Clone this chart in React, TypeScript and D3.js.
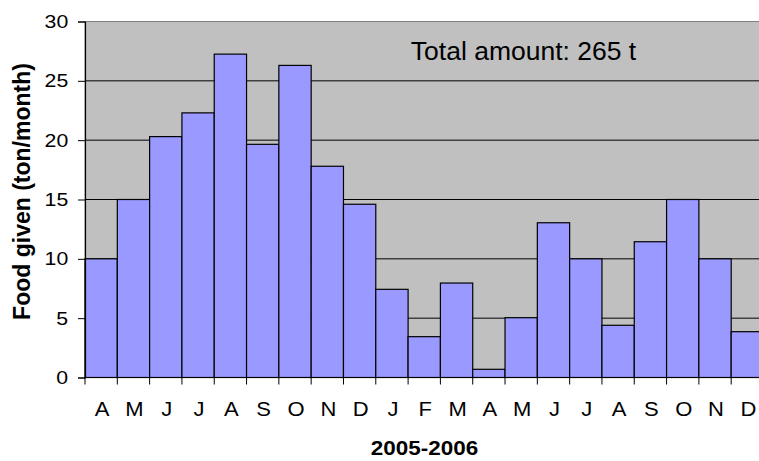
import { useEffect, useRef } from "react";
import * as d3 from "d3";

// Month initials, Apr 2005 -> Dec 2006
const MONTHS = ["A", "M", "J", "J", "A", "S", "O", "N", "D", "J", "F", "M", "A", "M", "J", "J", "A", "S", "O", "N", "D"];
// Food given (ton/month)
const FOOD = [10, 15, 20.3, 22.3, 27.25, 19.65, 26.3, 17.8, 14.6, 7.43, 3.44, 7.96, 0.69, 5.04, 13.04, 10, 4.4, 11.44, 15, 10, 3.86];
const Y_TICKS = [0, 5, 10, 15, 20, 25, 30];

const FONT = "Liberation Sans, Arial, sans-serif";
// the original text is a bit wider than it is tall
const SX = 1.1;

export default function App() {
  const svgRef = useRef<SVGSVGElement>(null);

  useEffect(() => {
    const svg = d3.select(svgRef.current);
    svg.selectAll("*").remove();

    const left = 85;
    const right = 763.5;
    const top = 21.5;
    const bottom = 377.5;

    const idx = MONTHS.map((_, i) => String(i));
    const x = d3.scaleBand().domain(idx).range([left, right]).paddingInner(0).paddingOuter(0);
    const y = d3.scaleLinear().domain([0, 30]).range([bottom, top]);

    // Plot area
    svg.append("rect")
      .attr("x", left).attr("y", top)
      .attr("width", right - left).attr("height", bottom - top)
      .attr("fill", "#c0c0c0").attr("stroke", "#808080").attr("stroke-width", 1);

    // Gridlines
    svg.append("g")
      .selectAll("line")
      .data(Y_TICKS.filter((t) => t > 0 && t < 30))
      .enter()
      .append("line")
      .attr("x1", left).attr("x2", right)
      .attr("y1", (d) => y(d)).attr("y2", (d) => y(d))
      .attr("stroke", "#000").attr("stroke-width", 1);

    // Bars
    svg.append("g")
      .selectAll("rect")
      .data(FOOD)
      .enter()
      .append("rect")
      .attr("x", (_, i) => x(String(i))!)
      .attr("y", (d) => y(d))
      .attr("width", x.bandwidth())
      .attr("height", (d) => bottom - y(d))
      .attr("fill", "#9999ff")
      .attr("stroke", "#000")
      .attr("stroke-width", 1.2);

    // Y axis
    svg.append("g")
      .attr("transform", `translate(${left},0)`)
      .call(d3.axisLeft(y).tickValues(Y_TICKS).tickSize(7).tickPadding(8))
      .call((sel) => {
        sel.select(".domain").attr("stroke", "#000").attr("stroke-width", 1.2);
        sel.selectAll(".tick line").attr("stroke", "#000");
        sel.selectAll(".tick text")
          .attr("fill", "#000").attr("font-size", "19px").attr("font-family", FONT)
          .attr("transform", `scale(${SX + 0.02},1)`);
      });

    // X axis: baseline, boundary ticks, centered month labels
    const xg = svg.append("g");
    xg.append("line")
      .attr("x1", left).attr("x2", right)
      .attr("y1", bottom).attr("y2", bottom)
      .attr("stroke", "#000").attr("stroke-width", 1.2);
    const bounds = [...idx.map((k) => x(k)!), right];
    xg.selectAll("line.tk")
      .data(bounds)
      .enter()
      .append("line")
      .attr("class", "tk")
      .attr("x1", (d) => d).attr("x2", (d) => d)
      .attr("y1", bottom).attr("y2", bottom + 7)
      .attr("stroke", "#000");
    xg.selectAll("text")
      .data(MONTHS)
      .enter()
      .append("text")
      .attr("transform", (_, i) => `translate(${x(String(i))! + x.bandwidth() / 2 + 1},416) scale(${SX},1)`)
      .attr("text-anchor", "middle")
      .attr("font-size", "20px")
      .attr("font-family", FONT)
      .attr("fill", "#000")
      .text((d) => d);

    // Axis titles
    svg.append("text")
      .attr("transform", `translate(424.5,455) scale(1.07,1)`)
      .attr("text-anchor", "middle")
      .attr("font-size", "21px").attr("font-weight", "bold")
      .attr("font-family", FONT)
      .text("2005-2006");
    svg.append("text")
      .attr("transform", `translate(30,191.5) rotate(-90)`)
      .attr("text-anchor", "middle")
      .attr("font-size", "23px").attr("font-weight", "bold")
      .attr("font-family", FONT)
      .text("Food given (ton/month)");

    // Annotation
    svg.append("text")
      .attr("transform", `translate(523.5,60) scale(1.06,1)`)
      .attr("text-anchor", "middle")
      .attr("font-size", "25px")
      .attr("font-family", FONT)
      .text("Total amount: 265 t");
  }, []);

  return (
    <svg
      ref={svgRef}
      width={770}
      height={461}
      style={{ position: "fixed", left: 0, top: 0, background: "#fff" }}
    />
  );
}
